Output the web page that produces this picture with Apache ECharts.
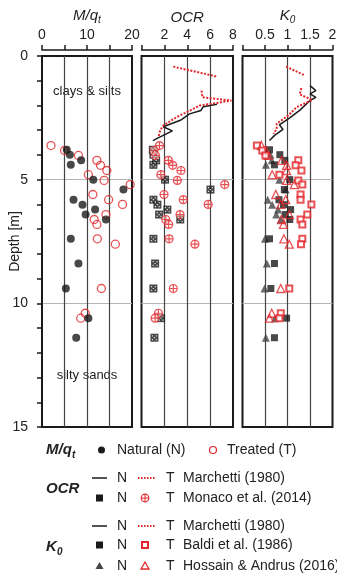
<!DOCTYPE html>
<html>
<head>
<meta charset="utf-8">
<script src="https://cdn.jsdelivr.net/npm/echarts@6/dist/echarts.min.js"></script>
<style>
  html, body { margin: 0; padding: 0; background: #fff; }
  #chart { width: 337px; height: 578px; }
</style>
</head>
<body>
<div id="chart"></div>
<script>
const FONT = 'Liberation Sans, Arial, sans-serif'
const RED = '#e3262b'
const INK = '#1a1a1a'

// test depths [m]
const depthN = [3.79, 3.99, 4.22, 4.40, 5.0, 5.40, 5.81, 6.01, 6.21, 6.41, 6.61, 7.39, 8.39, 9.40, 10.6, 11.39]
const depthT = [3.62, 3.82, 4.02, 4.22, 4.42, 4.63, 4.80, 5.03, 5.20, 5.6, 5.81, 6.0, 6.41, 6.61, 6.81, 7.39, 7.61, 9.40, 10.4, 10.6]

// M/qt
const mqN = [5.5, 6.2, 8.7, 6.4, 11.4, 18.1, 7.0, 9.0, 11.8, 9.7, 14.2, 6.4, 8.1, 5.3, 10.3, 7.6]
const mqT = [2.0, 5.0, 8.1, 12.2, 13.0, 14.4, 10.3, 13.8, 19.6, 11.3, 14.8, 17.9, 14.2, 11.6, 12.2, 12.3, 16.3, 13.2, 9.6, 8.6]

// OCR, Monaco et al. (2014)
const ocrMonacoN = [0.99, 1.04, 1.28, 1.04, 2.06, 6.03, 1.04, 1.39, 2.26, 1.54, 3.39, 1.04, 1.19, 1.04, 1.71, 1.13]
const ocrMonacoT = [1.57, 1.1, 1.22, 2.35, 2.73, 3.45, 1.69, 3.13, 7.28, 1.97, 3.65, 5.83, 3.37, 2.12, 2.38, 2.41, 4.67, 2.78, 1.48, 1.19]

// OCR, Marchetti (1980) profiles
const ocrMarchNDepth = [1.95, 2.05, 2.2, 2.34, 2.6, 2.86, 3.03, 3.3, 3.42]
const ocrMarchN = [6.6, 5.4, 5.2, 4.2, 3.4, 1.9, 2.7, 1.5, 1.0]
const ocrMarchTDepth = [0.43, 0.83, 1.1, 1.40, 1.67, 1.80, 1.9, 2.0, 2.27, 2.47, 2.81, 3.01, 3.28]
const ocrMarchT = [2.78, 6.57, null, 5.25, 5.33, 7.86, 6.55, 5.1, 3.95, 3.07, 1.91, 1.63, 1.48]

// K0, Marchetti (1980) profiles
const k0MarchNDepth = [1.2, 1.4, 1.53, 1.67, 1.8, 2.2, 2.5, 2.78, 2.97, 3.2, 3.42]
const k0MarchN = [1.5, 1.63, 1.5, 1.63, 1.5, 1.27, 1.05, 0.82, 0.9, 0.72, 0.6]
const k0MarchTDepth = [0.43, 0.79, 1.0, 1.3, 1.55, 1.78, 2.07, 2.4, 2.74, 2.94, 3.15]
const k0MarchT = [0.97, 1.39, null, 1.31, 1.27, 1.55, 1.2, 1.02, 0.76, 0.76, 0.69]

// K0, Baldi et al. (1986) and Hossain & Andrus (2016)
const k0BaldiN = [0.60, 0.83, 0.94, 0.71, 1.05, 0.93, 0.81, 0.91, 1.07, 0.95, 1.05, 0.60, 0.71, 0.63, 0.98, 0.71]
const k0HossainN = [0.50, 0.62, 0.65, 0.52, 0.82, 0.96, 0.56, 0.66, 0.79, 0.75, 0.85, 0.50, 0.54, 0.49, 0.72, 0.52]
const k0BaldiT = [0.32, 0.44, 0.51, 1.24, 1.18, 1.31, 0.82, 1.24, 1.33, 1.29, 1.29, 1.53, 1.44, 1.29, 1.33, 1.33, 1.30, 1.04, 0.85, 0.82]
const k0HossainT = [0.42, 0.52, 0.57, 0.87, 0.98, 0.98, 0.66, 0.98, 1.15, 0.74, 0.96, 0.85, 1.04, 0.87, 0.91, 0.92, 1.04, 0.85, 0.65, 0.60]

function pts(xs, ys) {
  return xs.map((v, i) => [v == null ? '-' : v, ys[i]])
}

const chart = echarts.init(document.getElementById('chart'), null, { renderer: 'canvas' })

const grids = [
  { left: 42, top: 56, width: 90, height: 371 },
  { left: 141.5, top: 56, width: 91.5, height: 371 },
  { left: 242.5, top: 56, width: 90, height: 371 },
].map(g => ({ ...g, show: true, borderColor: INK, borderWidth: 2, backgroundColor: 'transparent', outerBoundsMode: 'none' }))

function topAxis(gi, max, interval, name, fmt) {
  return {
    type: 'value', gridIndex: gi, position: 'top', offset: 6,
    min: 0, max, interval,
    name, nameLocation: 'middle', nameGap: 25, nameMoveOverlap: false,
    nameTextStyle: {
      rich: {
        i: { fontSize: 15, fontStyle: 'italic', fontFamily: FONT, color: '#222' },
        s: { fontSize: 10, fontStyle: 'italic', fontFamily: FONT, color: '#222', padding: [8, 0, 0, 0] },
      },
    },
    axisLine: { show: true, onZero: false, lineStyle: { color: INK, width: 1.5 } },
    axisTick: { show: true, inside: false, length: 5, lineStyle: { color: INK, width: 1.5 } },
    axisLabel: { margin: 8, color: '#222', fontSize: 14, fontFamily: FONT, formatter: fmt },
    splitLine: { show: true, showMinLine: false, showMaxLine: false, lineStyle: { color: '#444', width: 1.2 } },
  }
}

function depthAxis(gi, main) {
  return {
    type: 'value', gridIndex: gi, inverse: true, min: 0, max: 15, interval: 5,
    name: main ? 'Depth [m]' : '', nameLocation: 'middle', nameGap: 20, nameRotate: 90, nameMoveOverlap: false,
    nameTextStyle: { fontSize: 14, fontFamily: FONT, color: '#222' },
    axisLine: { show: main, lineStyle: { color: INK, width: 2 } },
    axisTick: { show: main, inside: false, length: 5, lineStyle: { color: INK, width: 1.5 } },
    minorTick: { show: main, splitNumber: 5, length: 5, lineStyle: { color: INK, width: 1.5 } },
    axisLabel: { show: main, margin: 14, color: '#222', fontSize: 14, fontFamily: FONT },
    splitLine: { show: true, showMinLine: false, showMaxLine: false, lineStyle: { color: '#b5b5b5', width: 1 } },
  }
}

const crossCircle = 'path://M10,0A10,10 0 1,1 10,20A10,10 0 1,1 10,0Z M0,10L20,10 M10,0L10,20'
const dotPattern = 'path://M0,0h1.2v1.2h-1.2z M3.8,0h1.2v1.2h-1.2z M1.9,1.9h1.2v1.2h-1.2z M0,3.8h1.2v1.2h-1.2z M3.8,3.8h1.2v1.2h-1.2z'

function scatter(xi, xs, ys, symbol, size, style, z) {
  return {
    type: 'scatter', xAxisIndex: xi, yAxisIndex: xi, data: pts(xs, ys),
    symbol, symbolSize: size, itemStyle: style, z: z || 3, silent: true,
  }
}

function profile(xi, xs, ys, color, type, width) {
  return {
    type: 'line', xAxisIndex: xi, yAxisIndex: xi, data: pts(xs, ys),
    symbol: 'none', showSymbol: false, connectNulls: false, z: 4, silent: true,
    lineStyle: { color, type, width },
  }
}

// legend and annotations
const graphic = []
function txt(x, y, s, font, align) {
  graphic.push({ type: 'text', x, y, silent: true, style: { text: s, font: font || '14px ' + FONT, fill: '#222', textAlign: align || 'left', textVerticalAlign: 'middle' } })
}
function hline(x1, x2, y, color, dash, w) {
  graphic.push({ type: 'line', silent: true, shape: { x1, y1: y, x2, y2: y }, style: { stroke: color, lineWidth: w, lineDash: dash || null } })
}
const BI = 'italic bold 15px ' + FONT
const BIs = 'italic bold 10px ' + FONT

txt(87, 91, 'clays & silts', '13px ' + FONT, 'center')
txt(87, 375, 'silty sands', '13px ' + FONT, 'center')

// M/qt row
txt(46, 450, 'M/q', BI)
txt(72, 455, 't', BIs)
graphic.push({ type: 'circle', silent: true, shape: { cx: 101.5, cy: 450, r: 3.5 }, style: { fill: INK } })
txt(117, 450, 'Natural (N)')
graphic.push({ type: 'circle', silent: true, shape: { cx: 213, cy: 450, r: 3.5 }, style: { fill: 'none', stroke: RED, lineWidth: 1.2 } })
txt(227, 450, 'Treated (T)')

// OCR rows
txt(46, 489, 'OCR', BI)
hline(92, 107, 478, INK, null, 1.5)
txt(117, 478, 'N')
hline(138, 155, 478, RED, [1.5, 1.5], 2)
txt(166, 478, 'T')
txt(183, 478, 'Marchetti (1980)')
graphic.push({ type: 'rect', silent: true, shape: { x: 96, y: 494.5, width: 7, height: 7 }, style: { fill: INK } })
txt(117, 498, 'N')
graphic.push({ type: 'circle', silent: true, shape: { cx: 145, cy: 498, r: 3.8 }, style: { fill: 'none', stroke: RED, lineWidth: 1.2 } })
hline(141.2, 148.8, 498, RED, null, 1)
graphic.push({ type: 'line', silent: true, shape: { x1: 145, y1: 494.2, x2: 145, y2: 501.8 }, style: { stroke: RED, lineWidth: 1 } })
txt(166, 498, 'T')
txt(183, 498, 'Monaco et al. (2014)')

// K0 rows
txt(46, 547, 'K', BI)
txt(57, 552, '0', BIs)
hline(92, 107, 526, INK, null, 1.5)
txt(117, 526, 'N')
hline(138, 155, 526, RED, [1.5, 1.5], 2)
txt(166, 526, 'T')
txt(183, 526, 'Marchetti (1980)')
graphic.push({ type: 'rect', silent: true, shape: { x: 96, y: 541.5, width: 7, height: 7 }, style: { fill: INK } })
txt(117, 545, 'N')
graphic.push({ type: 'rect', silent: true, shape: { x: 142, y: 542, width: 6, height: 6 }, style: { fill: '#fff', stroke: RED, lineWidth: 2 } })
txt(166, 545, 'T')
txt(183, 545, 'Baldi et al. (1986)')
graphic.push({ type: 'polygon', silent: true, shape: { points: [[99.5, 562], [103.5, 569], [95.5, 569]] }, style: { fill: '#444' } })
txt(117, 566, 'N')
graphic.push({ type: 'polygon', silent: true, shape: { points: [[145, 562], [149, 569], [141, 569]] }, style: { fill: 'none', stroke: RED, lineWidth: 1.3 } })
txt(166, 566, 'T')
txt(183, 566, 'Hossain & Andrus (2016)')

const option = {
  animation: false,
  backgroundColor: '#fff',
  textStyle: { fontFamily: FONT },
  grid: grids,
  xAxis: [
    topAxis(0, 20, 5, '{i|M/q}{s|t}', v => (v % 10 === 0 ? String(v) : '')),
    topAxis(1, 8, 2, '{i|OCR}', v => (v === 0 ? '' : String(v))),
    topAxis(2, 2, 0.5, '{i|K}{s|0}', v => (v === 0 ? '' : String(v))),
  ],
  yAxis: [depthAxis(0, true), depthAxis(1, false), depthAxis(2, false)],
  series: [
    scatter(0, mqT, depthT, 'circle', 8, { color: 'transparent', borderColor: RED, borderWidth: 1.3 }),
    scatter(0, mqN, depthN, 'circle', 8, { color: INK }),

    profile(1, ocrMarchN, ocrMarchNDepth, INK, 'solid', 1.5),
    profile(1, ocrMarchT, ocrMarchTDepth, RED, [2, 1.5], 2),
    scatter(1, ocrMonacoN, depthN, 'rect', 8, { color: INK }),
    scatter(1, ocrMonacoN, depthN, dotPattern, 5, { color: '#fff' }, 5),
    scatter(1, ocrMonacoT, depthT, crossCircle, 8, { color: 'rgba(255,255,255,0.6)', borderColor: RED, borderWidth: 1.2 }),

    profile(2, k0MarchN, k0MarchNDepth, INK, 'solid', 1.5),
    profile(2, k0MarchT, k0MarchTDepth, RED, [2, 1.5], 2),
    scatter(2, k0HossainN, depthN, 'triangle', 8, { color: '#444' }),
    scatter(2, k0BaldiN, depthN, 'rect', 7, { color: INK }),
    scatter(2, k0HossainT, depthT, 'triangle', 8, { color: 'transparent', borderColor: RED, borderWidth: 1.3 }),
    scatter(2, k0BaldiT, depthT, 'rect', 6, { color: '#fff', borderColor: RED, borderWidth: 2 }),
  ],
  graphic,
}

chart.setOption(option)
</script>
</body>
</html>
